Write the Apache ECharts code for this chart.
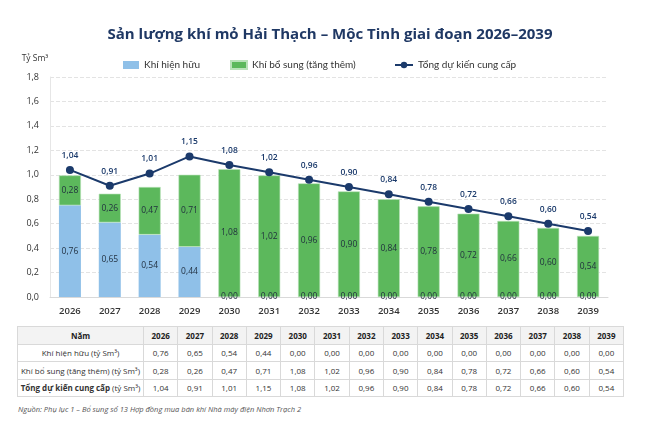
<!DOCTYPE html>
<html>
<head>
<meta charset="utf-8">
<script src="https://cdn.jsdelivr.net/npm/echarts@6/dist/echarts.min.js"></script>
<style>
  html, body { margin: 0; padding: 0; background: #fff; }
  #wrap { position: relative; width: 660px; height: 424px; font-family: "Open Sans", "Noto Sans", sans-serif; }
  #chart { position: absolute; left: 0; top: 0; width: 660px; height: 320px; }
  #tbl { position: absolute; left: 17px; top: 326px; width: 607px; border-collapse: collapse; font-size: 8px; color: #333; table-layout: fixed; }
  #tbl td, #tbl th { border: 1px solid #d9d9d9; text-align: center; height: 16.5px; padding: 0; }
  #tbl th { background: #f3f3f3; font-weight: 700; color: #222; }
  #src { position: absolute; left: 18px; top: 404px; font-size: 7.5px; font-style: italic; color: #555; }
</style>
</head>
<body>
<div id="wrap">
  <div id="chart"></div>
  <table id="tbl"></table>
  <div id="src">Nguồn: Phụ lục 1 – Bổ sung số 13 Hợp đồng mua bán khí Nhà máy điện Nhơn Trạch 2</div>
</div>
<script>
var years = ['2026','2027','2028','2029','2030','2031','2032','2033','2034','2035','2036','2037','2038','2039'];
// printed values (labels + table)
var existing = [0.76, 0.65, 0.54, 0.44, 0, 0, 0, 0, 0, 0, 0, 0, 0, 0];
var added = [0.28, 0.26, 0.47, 0.71, 1.08, 1.02, 0.96, 0.90, 0.84, 0.78, 0.72, 0.66, 0.60, 0.54];
var total = [1.04, 0.91, 1.01, 1.15, 1.08, 1.02, 0.96, 0.90, 0.84, 0.78, 0.72, 0.66, 0.60, 0.54];
// bar segment heights as drawn in the picture (they sit a little under the line)
var existingBar = [0.75, 0.61, 0.51, 0.41, 0, 0, 0, 0, 0, 0, 0, 0, 0, 0];
var addedBar = [0.245, 0.235, 0.39, 0.59, 1.046, 0.995, 0.93, 0.864, 0.80, 0.742, 0.682, 0.622, 0.565, 0.50];

function fmt(v) { return Number(v).toFixed(2).replace('.', ','); }

var myChart = echarts.init(document.getElementById('chart'));
var legendText = { fontSize: 10, color: '#333', fontFamily: 'Lato' };
var option = {
    textStyle: { fontFamily: 'Open Sans' },
    title: {
        text: 'Sản lượng khí mỏ Hải Thạch – Mộc Tinh giai đoạn 2026–2039',
        left: 'center',
        top: 22,
        textStyle: { fontSize: 15, fontWeight: 'bold', color: '#1f3864' }
    },
    legend: [
        { top: 55, left: 118, itemWidth: 16, itemHeight: 8, textStyle: legendText, data: [{ name: 'Khí hiện hữu', icon: 'rect' }] },
        { top: 55, left: 225, itemWidth: 16, itemHeight: 8, textStyle: legendText, data: [{ name: 'Khí bổ sung (tăng thêm)', icon: 'rect' }] },
        { top: 55, left: 389, itemWidth: 18, itemHeight: 8, textStyle: legendText, data: [{ name: 'Tổng dự kiến cung cấp' }] }
    ],
    grid: { left: 50, right: 52, top: 77, bottom: 23 },
    xAxis: {
        type: 'category',
        data: years,
        axisLine: { lineStyle: { color: '#d9d9d9' } },
        axisTick: { show: false },
        axisLabel: { fontSize: 9.5, fontWeight: 600, color: '#333', margin: 9 }
    },
    yAxis: {
        type: 'value',
        min: 0,
        max: 1.8,
        interval: 0.2,
        name: 'Tỷ Sm³',
        nameLocation: 'end',
        nameGap: 14,
        nameTextStyle: { fontSize: 8.5, color: '#333', align: 'center', padding: [0, 0, 0, -30] },
        axisLine: { show: true, lineStyle: { color: '#e6e6e6' } },
        axisLabel: { fontSize: 9, color: '#333', margin: 11, formatter: function (v) { return v.toFixed(1).replace('.', ','); } },
        splitLine: { lineStyle: { type: 'dashed', color: '#e3e3e3' } }
    },
    series: [
        {
            name: 'Khí hiện hữu',
            type: 'bar',
            stack: 'gas',
            barWidth: 22,
            itemStyle: { color: '#8fc0e8' },
            label: { show: true, position: 'inside', fontSize: 8.5, color: '#1f2d3d', textBorderWidth: 0, formatter: function (p) { return fmt(existing[p.dataIndex]); } },
            data: existingBar
        },
        {
            name: 'Khí bổ sung (tăng thêm)',
            type: 'bar',
            stack: 'gas',
            barWidth: 22,
            itemStyle: { color: '#5cb85c', borderColor: '#b9e2b9', borderWidth: 0.6 },
            label: { show: true, position: 'inside', fontSize: 8.5, color: '#1f2d3d', textBorderWidth: 0, formatter: function (p) { return fmt(added[p.dataIndex]); } },
            data: addedBar
        },
        {
            name: 'Tổng dự kiến cung cấp',
            type: 'line',
            symbol: 'circle',
            symbolSize: 8,
            lineStyle: { color: '#1b3a6b', width: 2 },
            itemStyle: { color: '#1b3a6b' },
            label: { show: true, position: 'top', distance: 6, fontSize: 8.5, fontWeight: 600, color: '#1b3a6b', formatter: function (p) { return fmt(p.value); } },
            data: total,
            z: 5
        }
    ]
};
myChart.setOption(option);

// data table below the chart
var rows = [
    ['Khí hiện hữu (tỷ Sm³)', existing],
    ['Khí bổ sung (tăng thêm) (tỷ Sm³)', added],
    ['<b>Tổng dự kiến cung cấp</b> (tỷ Sm³)', total]
];
var html = '<tr><th style="width:125px">Năm</th>';
years.forEach(function (y) { html += '<th>' + y + '</th>'; });
html += '</tr>';
rows.forEach(function (r) {
    html += '<tr><td>' + r[0] + '</td>';
    r[1].forEach(function (v) { html += '<td>' + fmt(v) + '</td>'; });
    html += '</tr>';
});
document.getElementById('tbl').innerHTML = html;
</script>
</body>
</html>
